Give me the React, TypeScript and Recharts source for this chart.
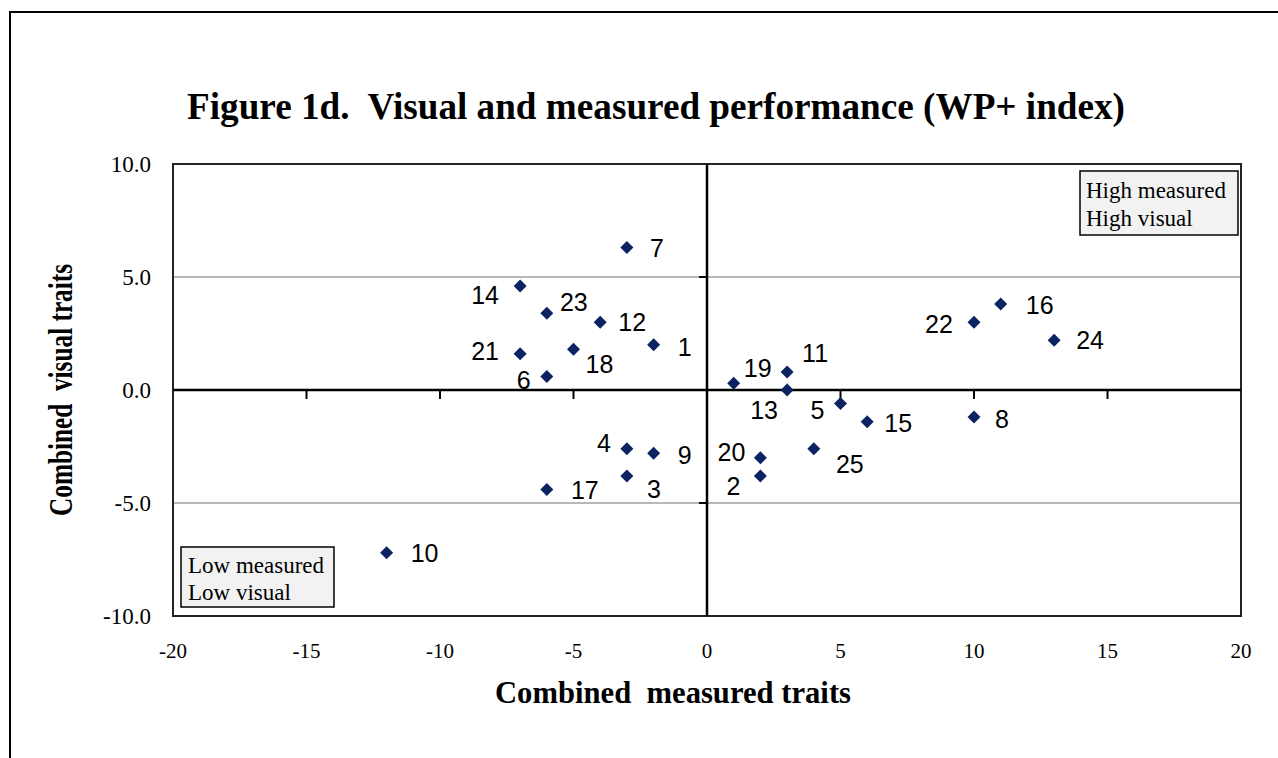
import { ScatterChart, Scatter, XAxis, YAxis, CartesianGrid, ReferenceLine, ReferenceArea, ReferenceDot } from 'recharts'

// variety numbers and their combined scores
const varieties = [1, 2, 3, 4, 5, 6, 7, 8, 9, 10, 11, 12, 13, 14, 15, 16, 17, 18, 19, 20, 21, 22, 23, 24, 25]
const measuredTraits = [-2, 2, -3, -3, 5, -6, -3, 10, -2, -12, 3, -4, 3, -7, 6, 11, -6, -5, 1, 2, -7, 10, -6, 13, 4]
const visualTraits = [2.0, -3.8, -3.8, -2.6, -0.6, 0.6, 6.3, -1.2, -2.8, -7.2, 0.8, 3.0, 0.0, 4.6, -1.4, 3.8, -4.4, 1.8, 0.3, -3.0, 1.6, 3.0, 3.4, 2.2, -2.6]

const xTicks = [-20, -15, -10, -5, 0, 5, 10, 15, 20]
const yTicks = [-10, -5, 0, 5, 10]
const xTickMarks = [-15, -10, -5, 5, 10, 15]
const yTickMarks = [-5, 5]

const title = 'Figure 1d.  Visual and measured performance (WP+ index)'
const xTitle = 'Combined  measured traits'
const yTitle = 'Combined  visual traits'

// where each point's number sits relative to the marker (px)
const labelOffset: Record<number, [number, number]> = {
  1: [31, 2], 2: [-27, 10], 3: [27, 13], 4: [-23, -6], 5: [-23, 6],
  6: [-23, 4], 7: [30, 0], 8: [28, 2], 9: [31, 2], 10: [38, 0],
  11: [28, -19], 12: [32, 0], 13: [-23, 20], 14: [-35, 9], 15: [31, 1],
  16: [39, 1], 17: [38, 1], 18: [26, 15], 19: [24, -15], 20: [-29, -6],
  21: [-35, -3], 22: [-35, 2], 23: [27, -11], 24: [36, 0], 25: [36, 15],
}

const data = varieties.map((id, i) => ({ id, x: measuredTraits[i], y: visualTraits[i] }))

const serif = '"Liberation Serif", "Times New Roman", serif'
const sans = '"Liberation Sans", Arial, sans-serif'

function Point(props: any) {
  const { cx, cy, payload } = props
  const [dx, dy] = labelOffset[payload.id] || [30, 0]
  const s = 6.5
  return (
    <g>
      <polygon
        points={`${cx},${cy - s} ${cx + s},${cy} ${cx},${cy + s} ${cx - s},${cy}`}
        fill="#0b2461"
      />
      <text
        x={cx + dx}
        y={cy + dy}
        textAnchor="middle"
        dominantBaseline="central"
        fontFamily={sans}
        fontSize={25}
        fill="#000"
      >
        {payload.id}
      </text>
    </g>
  )
}

export default function App() {
  return (
    <div style={{ position: 'absolute', left: 0, top: 0, width: 1278, height: 758, overflow: 'hidden', background: '#fff' }}>
      <ScatterChart width={1278} height={758} margin={{ top: 164, right: 37, left: 113, bottom: 102 }}>
        <CartesianGrid vertical={false} stroke="#a0a0a0" strokeWidth={1.5} horizontalValues={yTicks} />
        <XAxis
          type="number"
          dataKey="x"
          domain={[-20, 20]}
          ticks={xTicks}
          axisLine={false}
          tickLine={false}
          tickSize={0}
          tickMargin={27}
          height={40}
          interval={0}
          tick={{ fontFamily: serif, fontSize: 21, fill: '#000' }}
        />
        <YAxis
          type="number"
          dataKey="y"
          domain={[-10, 10]}
          ticks={yTicks}
          axisLine={false}
          tickLine={false}
          tickSize={0}
          tickMargin={22}
          width={60}
          interval={0}
          tickFormatter={(v: number) => v.toFixed(1)}
          tick={{ fontFamily: serif, fontSize: 23, fill: '#000' }}
        />
        <ReferenceArea x1={-20} x2={20} y1={-10} y2={10} fill="none" stroke="#222" strokeWidth={2} fillOpacity={0} />
        <ReferenceLine y={0} stroke="#000" strokeWidth={2.5} />
        <ReferenceLine x={0} stroke="#000" strokeWidth={2.5} />
        {xTickMarks.map((v) => (
          <ReferenceDot
            key={'xt' + v}
            x={v}
            y={0}
            r={0}
            shape={(p: any) => <line x1={p.cx} y1={p.cy} x2={p.cx} y2={p.cy + 9} stroke="#000" strokeWidth={2} />}
          />
        ))}
        {yTickMarks.map((v) => (
          <ReferenceDot
            key={'yt' + v}
            x={0}
            y={v}
            r={0}
            shape={(p: any) => <line x1={p.cx - 8} y1={p.cy} x2={p.cx} y2={p.cy} stroke="#000" strokeWidth={2} />}
          />
        ))}
        <Scatter data={data} shape={Point} isAnimationActive={false} />
      </ScatterChart>

      <svg width={1278} height={758} style={{ position: 'absolute', left: 0, top: 0, pointerEvents: 'none' }}>
        <path d="M10,800 L10,12 L1300,12" fill="none" stroke="#000" strokeWidth={2} />
        <text x={187} y={119} fontFamily={serif} fontWeight="bold" fontSize={37} textLength={938} lengthAdjust="spacingAndGlyphs" style={{ whiteSpace: 'pre' }}>
          {title}
        </text>
        <text x={673} y={703} textAnchor="middle" fontFamily={serif} fontWeight="bold" fontSize={32} textLength={356} lengthAdjust="spacingAndGlyphs" style={{ whiteSpace: 'pre' }}>
          {xTitle}
        </text>
        <text x={72} y={390} transform="rotate(-90 72 390)" textAnchor="middle" fontFamily={serif} fontWeight="bold" fontSize={33} textLength={252} lengthAdjust="spacingAndGlyphs" style={{ whiteSpace: 'pre' }}>
          {yTitle}
        </text>

        <rect x={1080} y={171} width={158} height={64} fill="#f2f2f2" stroke="#000" strokeWidth={1.5} />
        <text x={1086} y={198} fontFamily={serif} fontSize={23}>High measured</text>
        <text x={1086} y={226} fontFamily={serif} fontSize={23}>High visual</text>

        <rect x={181} y={547} width={153} height={60} fill="#f2f2f2" stroke="#000" strokeWidth={1.5} />
        <text x={188} y={573} fontFamily={serif} fontSize={23}>Low measured</text>
        <text x={188} y={600} fontFamily={serif} fontSize={23}>Low visual</text>
      </svg>
    </div>
  )
}
